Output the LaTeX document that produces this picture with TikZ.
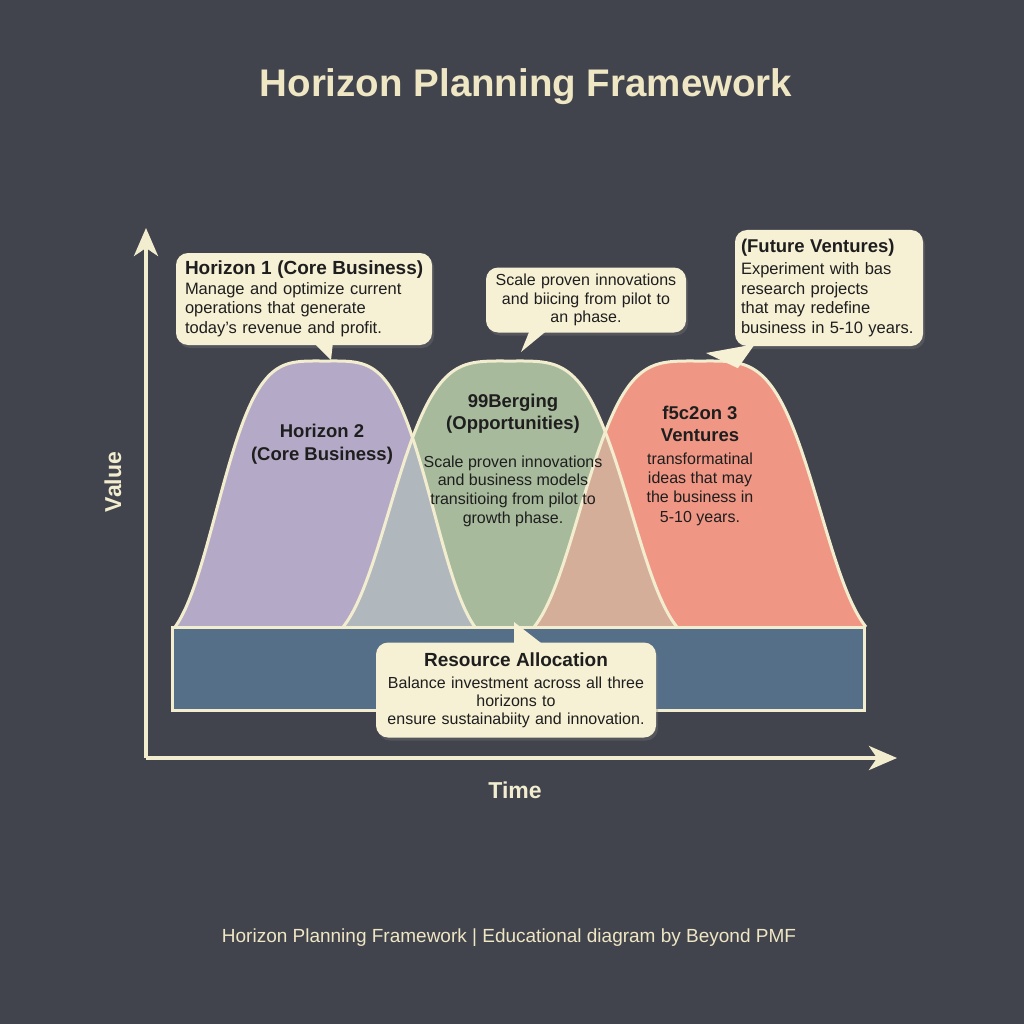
\documentclass[tikz,border=0pt]{standalone}
\usepackage{fontspec}
\setmainfont{Liberation Sans}
\usetikzlibrary{arrows.meta,shadows}
\definecolor{bg}{HTML}{41444D}
\definecolor{cream}{HTML}{F3EDCF}
\definecolor{titlecol}{HTML}{EFE6C4}
\definecolor{boxfill}{HTML}{F6F0D4}
\definecolor{ink}{HTML}{1E1E1E}
\definecolor{purp}{HTML}{B4AAC8}
\definecolor{grn}{HTML}{A8BA9C}
\definecolor{redc}{HTML}{F09684}
\definecolor{ovA}{HTML}{B0B8BE}
\definecolor{ovB}{HTML}{D4AE98}
\definecolor{barc}{HTML}{566F88}
\newcommand\fs[2]{\fontsize{#1}{#2}\selectfont}
\def\bellA{plot[domain=-1:1,samples=121,smooth] ({325+150*\x},{627-266*(exp(-(\x*\x/0.6084)^2)-0.0672)/0.9328})}
\def\bellB{plot[domain=-1:1,samples=121,smooth] ({510+167*\x},{627-266*(exp(-(\x*\x/0.6084)^2)-0.0672)/0.9328})}
\def\bellC{plot[domain=-1:1,samples=121,smooth] ({700+166*\x},{627-266*(exp(-(\x*\x/0.6084)^2)-0.0672)/0.9328})}
\begin{document}
\begin{tikzpicture}[x=1pt,y=-1pt,
  curve/.style={draw=cream,line width=3pt,line join=round},
  callout/.style={fill=boxfill,rounded corners=12pt,text=ink,inner sep=0pt,
    drop shadow={shadow xshift=2pt,shadow yshift=-3pt,opacity=0.3}},
  ptr/.style={fill=boxfill},
  body/.style={font=\fs{16.5}{19.5}},
  inlabel/.style={text=ink,align=center},
  axis/.style={draw=cream,line width=4pt,-{Stealth[length=28pt,width=24pt,inset=8pt]}},
]
\fill[bg] (0,0) rectangle (1024,1024);
\useasboundingbox (0,0) rectangle (1024,1024);

% title
\node[text=titlecol,font=\fs{38.5}{42}\bfseries] (title) at (526,87) {Horizon Planning Framework};

% axes
\coordinate (origin) at (146,758);
\coordinate (ytip) at (146,228);
\coordinate (xtip) at (897,758);
\draw[axis] (origin) -- (ytip);
\draw[axis] (origin) -- (xtip);
\node[rotate=90,text=cream,font=\fs{23}{26}\bfseries] (vlab) at (113,482) {Value};
\node[text=cream,font=\fs{23}{26}\bfseries] (tlab) at (515,790) {Time};

% bell curves
\fill[purp] \bellA -- cycle;
\fill[grn] \bellB -- cycle;
\fill[redc] \bellC -- cycle;
\begin{scope}
  \clip \bellA -- cycle;
  \fill[ovA] \bellB -- cycle;
\end{scope}
\begin{scope}
  \clip \bellC -- cycle;
  \fill[ovB] \bellB -- cycle;
\end{scope}
\draw[curve] \bellA;
\draw[curve] \bellB;
\draw[curve] \bellC;

% bar
\node[draw=cream,line width=3pt,fill=barc,minimum width=692pt,minimum height=83pt,inner sep=0pt] (bar) at (518,668.5) {};

% labels inside curves
\node[inlabel,font=\fs{18.5}{23}\bfseries] (h2t) at (322,444) {Horizon 2\\(Core Business)};
\node[inlabel,font=\fs{18.5}{22}\bfseries] (h2bt) at (513,414) {99Berging\\(Opportunities)};
\node[inlabel,font=\fs{16}{18.7}] (h2bb) at (513,491) {Scale proven innovations\\and business models\\transitioing from pilot to\\growth phase.};
\node[inlabel,font=\fs{18.5}{22}\bfseries] (h3t) at (700,424) {f5c2on 3\\Ventures};
\node[inlabel,font=\fs{16}{19.3}] (h3b) at (700,489) {transformatinal\\ideas that may\\the business in\\5-10 years.};

% callouts
\node[callout,minimum width=256pt,minimum height=92pt,text width=242pt,align=left,body] (c1) at (304,299)
 {\hspace*{2pt}{\fs{19}{22}\bfseries Horizon 1 (Core Business)}\\\hspace*{2pt}Manage and optimize current\\\hspace*{2pt}operations that generate\\\hspace*{2pt}today's revenue and profit.};
\coordinate (c1tip) at (331,360);
\fill[ptr] ([xshift=9pt,yshift=3pt]c1.south) -- (c1tip) -- ([xshift=29pt,yshift=3pt]c1.south) -- cycle;

\node[callout,minimum width=200pt,minimum height=65pt,text width=196pt,align=center,font=\fs{16}{18.5}] (c2) at (586,300)
 {Scale proven innovations\\and biicing from pilot to\\an phase.};
\coordinate (c2tip) at (521,352);
\fill[ptr] ([xshift=-56pt,yshift=3pt]c2.south) -- (c2tip) -- ([xshift=-38pt,yshift=3pt]c2.south) -- cycle;

\node[callout,minimum width=188pt,minimum height=116pt,text width=176pt,align=left,body] (c3) at (829,288)
 {{\fs{18.5}{22}\bfseries (Future Ventures)}\\[3pt]Experiment with bas\\research projects\\that may redefine\\business in 5-10 years.};
\coordinate (c3tip) at (706,353);
\fill[ptr] ([xshift=3pt,yshift=-22pt]c3.south west) -- (c3tip) -- ([xshift=20pt,yshift=2pt]c3.south west) -- cycle;

\node[callout,minimum width=280pt,minimum height=95pt,text width=276pt,align=center,font=\fs{16}{18}] (c4) at (516,690)
 {{\fs{19}{22}\bfseries Resource Allocation}\\[4pt]Balance investment across all three\\horizons to\\ensure sustainabiity and innovation.};
\coordinate (c4tip) at (514,622);
\fill[ptr] ([xshift=-2pt,yshift=-3pt]c4.north) -- (c4tip) -- ([xshift=28pt,yshift=-3pt]c4.north) -- cycle;

% footer
\node[text=titlecol,font=\fs{19}{22}] (foot) at (509,938) {Horizon Planning Framework | Educational diagram by Beyond PMF};
\end{tikzpicture}
\end{document}
